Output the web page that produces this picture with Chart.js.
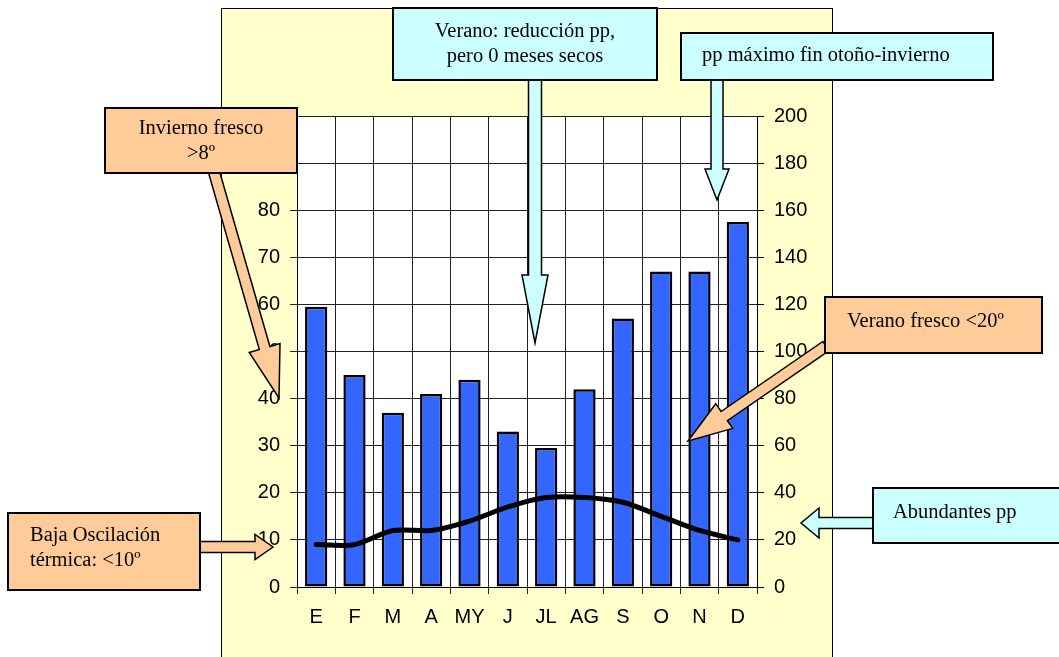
<!DOCTYPE html>
<html>
<head>
<meta charset="utf-8">
<script src="https://cdn.jsdelivr.net/npm/chart.js@4.4.1/dist/chart.umd.min.js"></script>
<style>
  body { margin: 0; background: #fff; }
</style>
</head>
<body>
<canvas id="climograma" width="1059" height="657"></canvas>
<script>
// climograma: precipitación (barras, eje dcho) y temperatura (línea, eje izdo)
const meses = ["E", "F", "M", "A", "MY", "J", "JL", "AG", "S", "O", "N", "D"];
const precipitacion = [119, 90, 74, 82, 88, 66, 59, 84, 114, 134, 134, 155];
const temperatura = [9, 9, 12, 12, 14, 17, 19, 19, 18, 15, 12, 10];
const ticksTemp = { min: 0, max: 100, step: 10 };
const ticksPrec = { min: 0, max: 200, step: 20 };

const PEACH = "#FFCC99";
const CYAN = "#CCFFFF";
const SERIF = "'Liberation Serif', 'Times New Roman', serif";
const SANS = "'Liberation Sans', Arial, sans-serif";

function flecha(ctx, x1, y1, x2, y2, shaft, head, headLen, fill) {
    const a = Math.atan2(y2 - y1, x2 - x1);
    const len = Math.hypot(x2 - x1, y2 - y1);
    ctx.save();
    ctx.translate(x1, y1);
    ctx.rotate(a);
    ctx.beginPath();
    ctx.moveTo(0, -shaft / 2);
    ctx.lineTo(len - headLen, -shaft / 2);
    ctx.lineTo(len - headLen, -head / 2);
    ctx.lineTo(len, 0);
    ctx.lineTo(len - headLen, head / 2);
    ctx.lineTo(len - headLen, shaft / 2);
    ctx.lineTo(0, shaft / 2);
    ctx.closePath();
    ctx.fillStyle = fill;
    ctx.fill();
    ctx.lineWidth = 1.5;
    ctx.strokeStyle = "#000";
    ctx.stroke();
    ctx.restore();
}

function caja(ctx, x, y, w, h, fill, lines, tx, ty, align) {
    ctx.save();
    ctx.fillStyle = fill;
    ctx.fillRect(x, y, w, h);
    ctx.lineWidth = 2;
    ctx.strokeStyle = "#000";
    ctx.strokeRect(x, y, w, h);
    ctx.fillStyle = "#000";
    ctx.font = "20.5px " + SERIF;
    ctx.textAlign = align;
    ctx.textBaseline = "middle";
    lines.forEach((t, i) => ctx.fillText(t, tx, ty + i * 25));
    ctx.restore();
}

const fondo = {
    id: "fondo",
    beforeDraw(chart) {
        const ctx = chart.ctx;
        const a = chart.chartArea;
        ctx.save();
        ctx.fillStyle = "#fff";
        ctx.fillRect(0, 0, chart.width, chart.height);
        ctx.fillStyle = "#FFFFCC";
        ctx.fillRect(221.5, 8.5, 611, 660);
        ctx.strokeStyle = "#000";
        ctx.lineWidth = 1;
        ctx.strokeRect(221.5, 8.5, 611, 660);
        ctx.fillStyle = "#fff";
        ctx.fillRect(a.left, a.top, a.right - a.left, a.bottom - a.top);
        ctx.restore();
    },
    afterDraw(chart) {
        const ctx = chart.ctx;
        // flechas
        flecha(ctx, 214, 172, 279, 398, 11, 32, 52, PEACH);
        flecha(ctx, 535, 80, 535, 343, 13, 26, 68, CYAN);
        flecha(ctx, 717, 80, 717, 200, 12, 24, 31, CYAN);
        flecha(ctx, 826, 346, 688, 441, 11, 30, 44, PEACH);
        flecha(ctx, 873, 523, 801, 523, 11, 30, 18, CYAN);
        flecha(ctx, 200, 547, 273, 547, 11, 25, 18, PEACH);
        // cuadros de texto
        caja(ctx, 105, 108, 192, 65, PEACH, ["Invierno fresco", ">8º"], 201, 129, "center");
        caja(ctx, 393, 8, 264, 72, CYAN, ["Verano: reducción pp,", "pero 0 meses secos"], 525, 32, "center");
        caja(ctx, 681, 33, 312, 47, CYAN, ["pp máximo fin otoño-invierno"], 702, 56, "left");
        caja(ctx, 825, 297, 217, 56, PEACH, ["Verano fresco <20º"], 847, 322, "left");
        caja(ctx, 873, 488, 200, 55, CYAN, ["Abundantes pp"], 893, 513, "left");
        caja(ctx, 8, 513, 192, 77, PEACH, ["Baja Oscilación", "térmica: <10º"], 30, 536, "left");
    }
};

new Chart(document.getElementById("climograma"), {
    type: "bar",
    data: {
        labels: meses,
        datasets: [
            {
                type: "line",
                data: temperatura,
                yAxisID: "yTemp",
                borderColor: "#000",
                borderWidth: 5,
                borderCapStyle: "round",
                borderJoinStyle: "round",
                tension: 0.3,
                pointRadius: 0,
                fill: false,
                order: 0
            },
            {
                type: "bar",
                data: precipitacion,
                yAxisID: "yPrec",
                backgroundColor: "#3366FF",
                borderColor: "#000",
                borderWidth: 2.5,
                borderSkipped: false,
                categoryPercentage: 1,
                barPercentage: 0.58,
                order: 1
            }
        ]
    },
    options: {
        responsive: false,
        devicePixelRatio: 1,
        animation: false,
        layout: {
            padding: { left: 221, right: 227, top: 116, bottom: 0 }
        },
        plugins: {
            legend: { display: false },
            tooltip: { enabled: false }
        },
        scales: {
            x: {
                grid: { offset: true, color: "#222", lineWidth: 1, tickLength: 7 },
                border: { color: "#000", width: 1 },
                ticks: {
                    color: "#000",
                    font: { family: SANS, size: 20 },
                    padding: 11,
                    maxRotation: 0,
                    autoSkip: false
                },
                afterFit: s => { s.height = 70; }
            },
            yTemp: {
                position: "left",
                min: ticksTemp.min,
                max: ticksTemp.max,
                ticks: {
                    stepSize: ticksTemp.step,
                    color: "#000",
                    font: { family: SANS, size: 20 },
                    padding: 10
                },
                grid: { color: "#222", lineWidth: 1, tickLength: 7 },
                border: { color: "#000", width: 1 },
                afterFit: s => { s.width = 76; }
            },
            yPrec: {
                position: "right",
                min: ticksPrec.min,
                max: ticksPrec.max,
                ticks: {
                    stepSize: ticksPrec.step,
                    color: "#000",
                    font: { family: SANS, size: 20 },
                    padding: 10
                },
                grid: { drawOnChartArea: false, color: "#000", tickLength: 7 },
                border: { color: "#000", width: 1 },
                afterFit: s => { s.width = 75; }
            }
        }
    },
    plugins: [fondo]
});
</script>
</body>
</html>
